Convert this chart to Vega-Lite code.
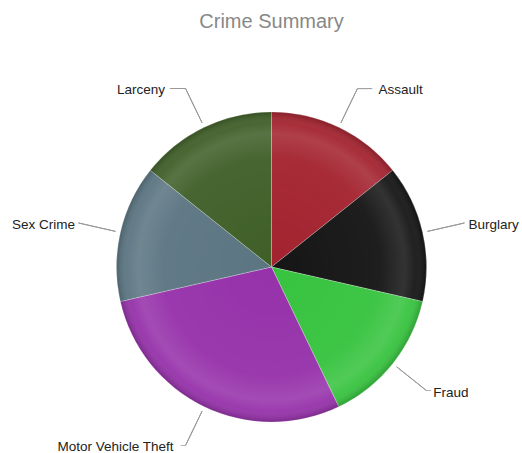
{
  "$schema": "https://vega.github.io/schema/vega-lite/v6.json",
  "autosize": {"type": "none"},
  "width": 501,
  "height": 372,
  "padding": {"left": 21, "top": 81, "right": 0, "bottom": 0},
  "background": "#ffffff",
  "title": {"text": "Crime Summary", "fontSize": 20, "font": "Liberation Sans", "fontWeight": "normal", "color": "#888888", "anchor": "middle", "frame": "group", "offset": 49},
  "data": {"values": [
    {"cat": "Assault", "value": 1, "k": 1},
    {"cat": "Burglary", "value": 1, "k": 2},
    {"cat": "Fraud", "value": 1, "k": 3},
    {"cat": "Motor Vehicle Theft", "value": 2, "k": 4},
    {"cat": "Sex Crime", "value": 1, "k": 5},
    {"cat": "Larceny", "value": 1, "k": 6}
  ]},
  "layer": [
    {
      "mark": {"type": "arc", "radius": 155, "stroke": "#ffffff", "strokeWidth": 0.5, "strokeOpacity": 0.5},
      "encoding": {
        "theta": {"field": "value", "type": "quantitative", "stack": true},
        "order": {"field": "k", "type": "quantitative"},
        "color": {"field": "cat", "type": "nominal", "legend": null,
          "scale": {"domain": ["Assault", "Burglary", "Fraud", "Motor Vehicle Theft", "Sex Crime", "Larceny"],
                    "range": ["#a3232f", "#151515", "#37c33f", "#9631aa", "#5b7582", "#3f5f28"]}}
      }
    },
    {
      "transform": [{"aggregate": [{"op": "sum", "field": "value", "as": "total"}]}],
      "mark": {"type": "arc", "radius": 155,
        "fill": {"gradient": "radial", "x1": 0.5, "y1": 0.5, "r1": 0, "x2": 0.5, "y2": 0.5, "r2": 0.5,
          "stops": [
            {"offset": 0, "color": "rgba(255,255,255,0)"},
            {"offset": 0.7, "color": "rgba(255,255,255,0.04)"},
            {"offset": 0.86, "color": "rgba(255,255,255,0.13)"},
            {"offset": 0.93, "color": "rgba(255,255,255,0.05)"},
            {"offset": 1, "color": "rgba(0,0,0,0.18)"}
          ]}},
      "encoding": {
        "theta": {"field": "total", "type": "quantitative", "stack": true}
      }
    },
    {
      "mark": {"type": "arc", "radius": 198, "radius2": 160, "padAngle": 3, "fillOpacity": 0, "stroke": "#999999", "strokeWidth": 1},
      "encoding": {
        "theta": {"field": "value", "type": "quantitative", "stack": true},
        "order": {"field": "k", "type": "quantitative"}
      }
    },
    {
      "mark": {"type": "text", "radius": 198, "align": "left", "baseline": "alphabetic", "dy": 4.2, "fontSize": 12, "font": "DejaVu Sans", "fill": "#999999"},
      "encoding": {
        "theta": {"field": "value", "type": "quantitative", "stack": true},
        "order": {"field": "k", "type": "quantitative"},
        "text": {"condition": {"test": "datum.cat === 'Assault'", "value": "──"}, "value": ""}
      }
    },
    {
      "mark": {"type": "text", "radius": 198, "align": "right", "baseline": "alphabetic", "dy": 4.5, "fontSize": 13, "font": "DejaVu Sans", "fill": "#999999"},
      "encoding": {
        "theta": {"field": "value", "type": "quantitative", "stack": true},
        "order": {"field": "k", "type": "quantitative"},
        "text": {"condition": {"test": "datum.cat === 'Larceny'", "value": "──"}, "value": ""}
      }
    },
    {
      "mark": {"type": "text", "radius": 198, "align": "left", "baseline": "alphabetic", "dy": 2.8, "fontSize": 8, "font": "DejaVu Sans", "fill": "#999999"},
      "encoding": {
        "theta": {"field": "value", "type": "quantitative", "stack": true},
        "order": {"field": "k", "type": "quantitative"},
        "text": {"condition": {"test": "datum.cat === 'Fraud'", "value": "─"}, "value": ""}
      }
    },
    {
      "mark": {"type": "text", "radius": 198, "align": "right", "baseline": "alphabetic", "dy": 2.8, "fontSize": 8, "font": "DejaVu Sans", "fill": "#999999"},
      "encoding": {
        "theta": {"field": "value", "type": "quantitative", "stack": true},
        "order": {"field": "k", "type": "quantitative"},
        "text": {"condition": {"test": "datum.cat === 'Motor Vehicle Theft'", "value": "─"}, "value": ""}
      }
    },
    {
      "mark": {"type": "text", "radius": 198, "align": "left", "baseline": "middle", "dx": 21, "dy": 1, "fontSize": 13.5, "font": "Liberation Sans", "fill": "#222222"},
      "encoding": {
        "theta": {"field": "value", "type": "quantitative", "stack": true},
        "order": {"field": "k", "type": "quantitative"},
        "text": {"condition": {"test": "datum.cat === 'Assault'", "field": "cat"}, "value": ""}
      }
    },
    {
      "mark": {"type": "text", "radius": 198, "align": "left", "baseline": "middle", "dx": 4, "dy": 2, "fontSize": 13.5, "font": "Liberation Sans", "fill": "#222222"},
      "encoding": {
        "theta": {"field": "value", "type": "quantitative", "stack": true},
        "order": {"field": "k", "type": "quantitative"},
        "text": {"condition": {"test": "datum.cat === 'Burglary'", "field": "cat"}, "value": ""}
      }
    },
    {
      "mark": {"type": "text", "radius": 198, "align": "left", "baseline": "middle", "dx": 7, "dy": 3, "fontSize": 13.5, "font": "Liberation Sans", "fill": "#222222"},
      "encoding": {
        "theta": {"field": "value", "type": "quantitative", "stack": true},
        "order": {"field": "k", "type": "quantitative"},
        "text": {"condition": {"test": "datum.cat === 'Fraud'", "field": "cat"}, "value": ""}
      }
    },
    {
      "mark": {"type": "text", "radius": 198, "align": "right", "baseline": "middle", "dx": -12, "dy": 2, "fontSize": 13.5, "font": "Liberation Sans", "fill": "#222222"},
      "encoding": {
        "theta": {"field": "value", "type": "quantitative", "stack": true},
        "order": {"field": "k", "type": "quantitative"},
        "text": {"condition": {"test": "datum.cat === 'Motor Vehicle Theft'", "field": "cat"}, "value": ""}
      }
    },
    {
      "mark": {"type": "text", "radius": 198, "align": "right", "baseline": "middle", "dx": -3.5, "dy": 2, "fontSize": 13.5, "font": "Liberation Sans", "fill": "#222222"},
      "encoding": {
        "theta": {"field": "value", "type": "quantitative", "stack": true},
        "order": {"field": "k", "type": "quantitative"},
        "text": {"condition": {"test": "datum.cat === 'Sex Crime'", "field": "cat"}, "value": ""}
      }
    },
    {
      "mark": {"type": "text", "radius": 198, "align": "right", "baseline": "middle", "dx": -20.5, "dy": 1, "fontSize": 13.5, "font": "Liberation Sans", "fill": "#222222"},
      "encoding": {
        "theta": {"field": "value", "type": "quantitative", "stack": true},
        "order": {"field": "k", "type": "quantitative"},
        "text": {"condition": {"test": "datum.cat === 'Larceny'", "field": "cat"}, "value": ""}
      }
    }
  ]
}
